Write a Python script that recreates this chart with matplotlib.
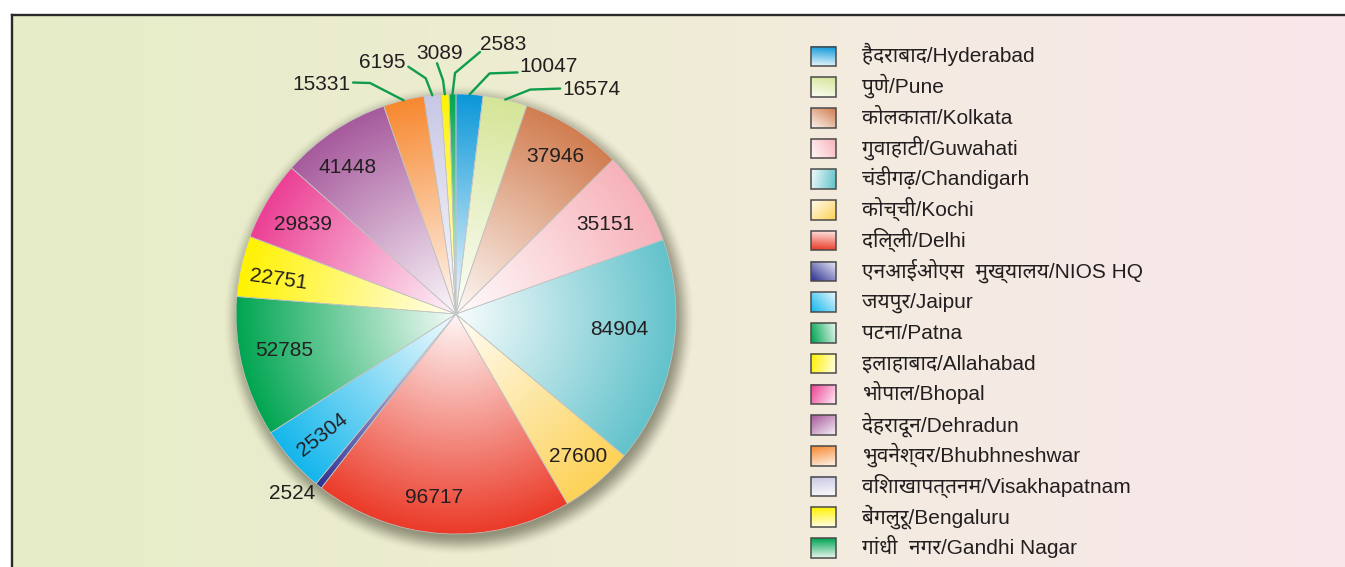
import numpy as np
import matplotlib
matplotlib.use("Agg")
import matplotlib.pyplot as plt
from matplotlib import font_manager
from matplotlib.patches import Rectangle
from matplotlib.colors import to_rgb

# ---------------- data ----------------
cities_hi = ["हैदराबाद", "पुणे", "कोलकाता", "गुवाहाटी", "चंडीगढ़", "कोच्ची", "दिल्ली",
             "एनआईओएस  मुख्यालय", "जयपुर", "पटना", "इलाहाबाद", "भोपाल", "देहरादून",
             "भुवनेश्वर", "विशाखापत्तनम", "बेंगलुरू", "गांधी  नगर"]
cities_en = ["Hyderabad", "Pune", "Kolkata", "Guwahati", "Chandigarh", "Kochi", "Delhi",
             "NIOS HQ", "Jaipur", "Patna", "Allahabad", "Bhopal", "Dehradun",
             "Bhubhneshwar", "Visakhapatnam", "Bengaluru", "Gandhi Nagar"]
values = [10047, 16574, 37946, 35151, 84904, 27600, 96717, 2524, 25304, 52785,
          22751, 29839, 41448, 15331, 6195, 3089, 2583]
colors = ["#0a97d9", "#d5e597", "#d17d50", "#f7b2ba", "#62c2cb", "#fdd257", "#eb3a28",
          "#2e3192", "#13b6ec", "#00a551", "#fff200", "#ec3f94", "#a65a9c",
          "#f7882f", "#c8c7e5", "#fff200", "#00a551"]

# ---------------- style ----------------
W, H = 1345, 567
CX, CY, R = 456, H - 314, 220
TXT = "#231f20"

avail = {f.name for f in font_manager.fontManager.ttflist}
deva = next((n for n in ["Noto Sans Devanagari", "FreeSans", "Mukta", "Hind",
                         "Lohit Devanagari", "Annapurna SIL"] if n in avail), None)
latin = "Liberation Sans" if "Liberation Sans" in avail else "DejaVu Sans"
fam = [latin] + ([deva] if deva else []) + ["DejaVu Sans"]

# per-slice label styles: inside -> (nudge dx, dy in screen px, rotation)
inside = {2: (3, -7, 0), 3: (-3, 4, 0), 4: (-14, -18, 0), 5: (6, 3, 0),
          6: (-10, 1, 0), 8: (0, 0, 38), 9: (3, -9, 0), 10: (-1, 3, -8),
          11: (1, 2, 0), 12: (-8, 1, 0)}
# outside with leader: (elbow dx,dy), (end dx,dy), text offset dx,dy, ha
outside = {0: ((20, -21), (48, -22), (2, -8), "left"),
           1: ((25, -10), (55, -11), (2, -1), "left"),
           16: ((2.5, -21), (27.5, -42), (0, -10), "left"),
           15: ((-1.8, -14), (-7.8, -31), (3, -12), "center"),
           14: ((-6.6, -17), (-24, -28.6), (-3, -6), "right"),
           13: ((-33.6, -17.3), (-50.6, -17.8), (-3, 0), "right")}
plain_out = {7: (1.1, -13, -12)}

fig = plt.figure(figsize=(W / 100, H / 100), dpi=100)
ax = fig.add_axes([0, 0, 1, 1])

# background gradient
bx = np.linspace(0, 1, 400)
stops_x = [0.0, 0.5, 0.68, 1.0]
stops_c = np.array([[229, 237, 198], [240, 236, 214], [244, 235, 226], [249, 230, 235]]) / 255
bg = np.stack([np.interp(bx, stops_x, stops_c[:, k]) for k in range(3)], axis=-1)[None, :, :]
ax.imshow(bg, extent=(12, W, 0, H - 14.5), aspect="auto", zorder=0, interpolation="bilinear")
ax.plot([12.2, 12.2], [0, H - 14.5], color="#2a2a2a", lw=1.7, zorder=6, solid_capstyle="projecting")
ax.plot([12.2, W], [H - 14.5, H - 14.5], color="#2a2a2a", lw=1.7, zorder=6, solid_capstyle="projecting")

# drop shadow
M = 45
sy, sx = np.mgrid[0:2 * (R + M), 0:2 * (R + M)] + 0.5
d = np.hypot(sx - (R + M) - 3, sy - (R + M) + 6)
e = np.clip((d - (R - 6)) / 22.0, 0, 1)
alpha = 0.55 * (1 - (3 * e ** 2 - 2 * e ** 3))
sh = np.zeros(d.shape + (4,))
sh[..., :3] = np.array([70, 70, 50]) / 255
sh[..., 3] = alpha
ax.imshow(sh, extent=(CX - R - M, CX + R + M, CY - R - M, CY + R + M), origin="lower",
          aspect="auto", zorder=0.5, interpolation="bilinear")

# pie
wedges, _ = ax.pie(values, colors=colors, startangle=90, counterclock=False, radius=R,
                   center=(CX, CY), wedgeprops=dict(edgecolor="#c4c4c4", linewidth=0.5))
gy, gx = np.mgrid[0:2 * R, 0:2 * R] + 0.5
rr = np.hypot(gx - R, gy - R) / R
t = np.clip(0.04 + 0.96 * rr, 0, 1)[..., None]
for w, c in zip(wedges, colors):
    rgb = np.array(to_rgb(c))
    img = 1 - t * (1 - rgb)
    im = ax.imshow(img, extent=(CX - R, CX + R, CY - R, CY + R), origin="lower",
                   aspect="auto", zorder=2, interpolation="bilinear")
    im.set_clip_path(w)
    w.set_facecolor("none")
    w.set_zorder(3)

# labels
for i, (w, v) in enumerate(zip(wedges, values)):
    mid = np.deg2rad((w.theta1 + w.theta2) / 2)
    ux, uy = np.cos(mid), np.sin(mid)
    if i in inside:
        dx, dy, rot = inside[i]
        ax.text(CX + 0.82 * R * ux + dx, CY + 0.82 * R * uy - dy, str(v), ha="center",
                va="center_baseline", rotation=rot, rotation_mode="anchor",
                fontsize=15, color=TXT, family=[latin], zorder=7)
    elif i in outside:
        (ex, ey), (fx, fy), (tx, ty), ha = outside[i]
        p0 = (CX + R * ux, CY + R * uy)
        xs = [p0[0], p0[0] + ex, p0[0] + fx]
        ys = [p0[1], p0[1] - ey, p0[1] - fy]
        ax.plot(xs, ys, color="#0f9d4c", lw=1.7, zorder=7, solid_joinstyle="round",
                solid_capstyle="round")
        ax.text(xs[-1] + tx, ys[-1] - ty, str(v), ha=ha, va="center_baseline",
                fontsize=15, color=TXT, family=[latin], zorder=7)
    elif i in plain_out:
        rf, dx, dy = plain_out[i]
        ax.text(CX + rf * R * ux + dx, CY + rf * R * uy - dy, str(v), ha="center",
                va="center_baseline", fontsize=15, color=TXT, family=[latin], zorder=7)

# legend
for i, (hi, en, w, c) in enumerate(zip(cities_hi, cities_en, wedges, colors)):
    yc = 56.3 + i * 30.73
    x0, x1 = 810.5, 835.5
    y0, y1 = H - (yc + 9.8), H - (yc - 9.8)
    mid = np.deg2rad((w.theta1 + w.theta2) / 2)
    ux, uy = np.cos(mid), np.sin(mid)
    ly, lx = np.mgrid[-1:1:20j, -1:1:25j]
    proj = (lx * 1.25 * ux + ly * uy) / (1.25 * abs(ux) + abs(uy))
    tt = np.clip(0.55 + 0.45 * proj, 0, 1)[..., None]
    rgb = np.array(to_rgb(c))
    img = 1 - tt * (1 - rgb)
    ax.imshow(img, extent=(x0, x1, y0, y1), origin="lower", aspect="auto", zorder=4,
              interpolation="bilinear")
    ax.add_patch(Rectangle((x0, y0), x1 - x0, y1 - y0, facecolor="none",
                           edgecolor="#4a4a4a", lw=1.1, zorder=5))
    ax.text(862.5, H - (yc + 6), hi + "/" + en, ha="left", va="baseline", fontsize=15,
            color=TXT, family=fam, zorder=7)

ax.set_xlim(0, W)
ax.set_ylim(0, H)
ax.set_aspect("auto")
ax.axis("off")
fig.savefig("out.png", dpi=100, facecolor="white")
